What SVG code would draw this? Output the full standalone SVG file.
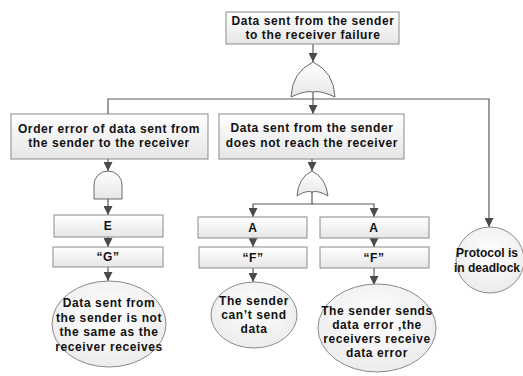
<svg xmlns="http://www.w3.org/2000/svg" width="523" height="376" viewBox="0 0 523 376">
<defs>
<linearGradient id="g" x1="0" y1="0" x2="0" y2="1"><stop offset="0" stop-color="#ffffff"/><stop offset="1" stop-color="#e6e6e6"/></linearGradient>
<radialGradient id="rg" cx="0.5" cy="0.4" r="0.6"><stop offset="0" stop-color="#ffffff"/><stop offset="1" stop-color="#ececec"/></radialGradient>
<marker id="ar" viewBox="0 0 10 10" refX="10" refY="5" markerWidth="9" markerHeight="9" markerUnits="userSpaceOnUse" orient="auto"><path d="M0,0 L10,5 L0,10 Z" fill="#4a4a4a"/></marker>
</defs>
<style>
.b{fill:url(#g);stroke:#8a8a8a;stroke-width:1}
.e{fill:url(#rg);stroke:#8a8a8a;stroke-width:1}
.gt{fill:url(#g);stroke:#6a6a6a;stroke-width:1}
.c{fill:none;stroke:#5a5a5a;stroke-width:1.2}
.t{font-family:"Liberation Sans",Arial,sans-serif;font-weight:bold;font-size:12px;letter-spacing:0.6px;fill:#111;text-anchor:middle}
.te{font-family:"Liberation Sans",Arial,sans-serif;font-weight:bold;font-size:12px;letter-spacing:0.6px;fill:#111;text-anchor:middle}
</style>
<rect width="523" height="376" fill="#ffffff"/>
<g id="connectors">
<path class="c" d="M313,44 V62" marker-end="url(#ar)"/>
<path class="c" d="M313,92 V114" marker-end="url(#ar)"/>
<path class="c" d="M108,114 V99 H489 V227" marker-end="url(#ar)"/>
<path class="c" d="M108,159 V171" marker-end="url(#ar)"/>
<path class="c" d="M108,199 V215" marker-end="url(#ar)"/>
<path class="c" d="M108,237 V247" marker-end="url(#ar)"/>
<path class="c" d="M108,267 V281" marker-end="url(#ar)"/>
<path class="c" d="M312,159 V171" marker-end="url(#ar)"/>
<path class="c" d="M312,192 V204 H253 V217" marker-end="url(#ar)"/>
<path class="c" d="M312,204 H374 V217" marker-end="url(#ar)"/>
<path class="c" d="M253,238 V247" marker-end="url(#ar)"/>
<path class="c" d="M374,238 V247" marker-end="url(#ar)"/>
<path class="c" d="M253,268 V282" marker-end="url(#ar)"/>
<path class="c" d="M374,268 V285" marker-end="url(#ar)"/>
</g>
<g id="top"><rect class="b" x="226" y="12" width="173" height="32"/><text class="t" x="313" y="25">Data sent from the sender</text><text class="t" x="313" y="39">to the receiver failure</text></g>
<g id="or1"><path class="gt" d="M291,97 Q292,72 313,62 Q334,72 335,97 Q320,90 313,92 Q306,90 291,97 Z"/></g>
<g id="order"><rect class="b" x="11" y="114" width="197" height="45"/><text class="t" x="109" y="133">Order error of data sent from</text><text class="t" x="109" y="147">the sender to the receiver</text></g>
<g id="mid"><rect class="b" x="219" y="114" width="185" height="45"/><text class="t" x="312" y="132">Data sent from the sender</text><text class="t" x="312" y="147">does not reach the receiver</text></g>
<g id="and1"><path class="gt" d="M94,199 V185 A14,14 0 0 1 122,185 V199 Z"/></g>
<g id="or2"><path class="gt" d="M297,196 Q298,178 312,171 Q326,178 328,196 Q318,190 312,192 Q306,190 297,196 Z"/></g>
<g id="E"><rect class="b" x="54" y="215" width="109" height="22"/><text class="t" x="108" y="230">E</text></g>
<g id="A1"><rect class="b" x="198" y="217" width="109" height="21"/><text class="t" x="253" y="232">A</text></g>
<g id="A2"><rect class="b" x="320" y="217" width="109" height="21"/><text class="t" x="374" y="232">A</text></g>
<g id="G"><rect class="b" x="53" y="247" width="110" height="20"/><text class="t" x="108" y="261">“G”</text></g>
<g id="F1"><rect class="b" x="199" y="247" width="108" height="21"/><text class="t" x="253" y="262">“F”</text></g>
<g id="F2"><rect class="b" x="320" y="247" width="109" height="21"/><text class="t" x="374" y="262">“F”</text></g>
<g id="ev1"><ellipse class="e" cx="109" cy="324" rx="57" ry="43"/><text class="te" x="109" y="307">Data sent from</text><text class="te" x="109" y="321.5">the sender is not</text><text class="te" x="109" y="336">the same as the</text><text class="te" x="109" y="350.5">receiver receives</text></g>
<g id="ev2"><ellipse class="e" cx="254" cy="315" rx="43" ry="33"/><text class="te" x="254" y="305">The sender</text><text class="te" x="254" y="319">can’t send</text><text class="te" x="254" y="333">data</text></g>
<g id="ev3"><ellipse class="e" cx="377" cy="328" rx="59" ry="44"/><text class="te" x="377" y="315">The sender sends</text><text class="te" x="377" y="329">data error ,the</text><text class="te" x="377" y="343">receivers receive</text><text class="te" x="377" y="357">data error</text></g>
<g id="ev4"><ellipse class="e" cx="490" cy="260" rx="34" ry="33"/><text class="te" x="487" y="257" style="letter-spacing:0">Protocol is</text><text class="te" x="487" y="272" style="letter-spacing:0">in deadlock</text></g>
</svg>
